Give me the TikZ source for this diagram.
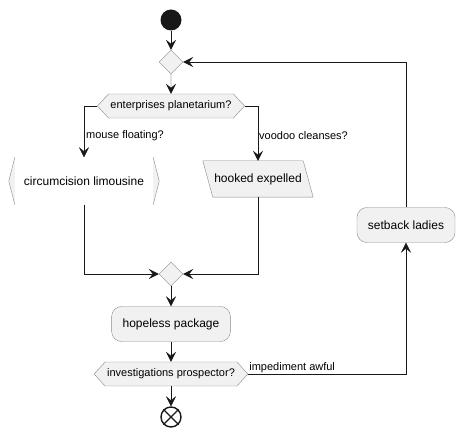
\documentclass[tikz,border=0pt]{standalone}
\usepackage{fontspec}
\setmainfont{Liberation Sans}
\usetikzlibrary{shapes.geometric,shapes.symbols,arrows.meta}

\definecolor{boxfill}{HTML}{F1F1F1}
\definecolor{boxline}{HTML}{8A8A8A}
\definecolor{linecol}{HTML}{181818}

\tikzset{
  act/.style={draw=boxline, fill=boxfill, rounded corners=10pt, minimum height=35pt, inner xsep=11pt, font=\fontsize{12}{14}\selectfont},
  merge/.style={draw=boxline, fill=boxfill, shape=diamond, minimum width=24pt, minimum height=24pt, inner sep=0pt},
  test/.style={draw=boxline, fill=boxfill, shape=signal, signal to=east and west, signal pointer angle=95, minimum height=24pt, inner xsep=2pt, inner ysep=0pt, font=\fontsize{11}{13}\selectfont},
  flow/.style={draw=linecol, -{Stealth[length=10pt,width=10pt,inset=4pt]}},
  lbl/.style={font=\fontsize{11}{13}\selectfont, inner sep=1pt}
}

\begin{document}
\begin{tikzpicture}[x=1pt,y=-1pt]
\useasboundingbox (0,0) rectangle (466,435);

\node[circle, fill=linecol, minimum size=21pt, inner sep=0pt] (start) at (171,20) {};
\node[merge] (m1) at (171,62) {};
\node[test] (d1) at (171,106) {enterprises planetarium?};

\node[minimum width=150pt, minimum height=47pt, inner sep=0pt, font=\fontsize{12}{14}\selectfont] (lim) at (84,181) {circumcision limousine};
\draw[boxline, fill=boxfill] ([xshift=6pt]lim.north west) -- (lim.west) -- ([xshift=6pt]lim.south west);
\draw[boxline, fill=boxfill] ([xshift=-6pt]lim.north east) -- (lim.east) -- ([xshift=-6pt]lim.south east);

% parallelogram
\node[minimum width=100pt, minimum height=36pt, inner sep=0pt, font=\fontsize{12}{14}\selectfont] (hook) at (258,179) {};
\filldraw[draw=boxline, fill=boxfill] ([xshift=-5pt]hook.north west) -- ([xshift=-5pt]hook.north east)
  -- ([xshift=5pt]hook.south east) -- ([xshift=5pt]hook.south west) -- cycle;
\node[font=\fontsize{12}{14}\selectfont] at (hook) {hooked expelled};

\node[merge] (m2) at (171,274) {};
\node[act] (hope) at (171,324) {hopeless package};
\node[test] (d2) at (171,374) {investigations prospector?};
\coordinate (d2bot) at ([yshift=-12pt]d2.center);
\node[circle, draw=linecol, fill=white, line width=1.4pt, minimum size=20pt, inner sep=0pt] (stop) at (171,417) {};
\draw[linecol, line width=1.4pt] (stop.45) -- (stop.225) (stop.135) -- (stop.315);

\node[act] (setb) at (406,225) {setback ladies};

% flows
\draw[flow] (start) -- (m1);
\draw[flow] (m1) -- (d1);
\draw[flow] (d1.west) -| (lim.north);
\node[lbl, anchor=west] (lmouse) at (85,136) {mouse floating?};
\draw[flow] (d1.east) -| (hook.north);
\node[lbl, anchor=west] (lvoodoo) at (258,136) {voodoo cleanses?};
\draw[flow] (lim.south) |- (m2.west);
\draw[flow] (hook.south) |- (m2.east);
\draw[flow] (m2) -- (hope);
\draw[flow] (hope.south) -- (d2.north);
\draw[flow] (d2bot) -- (stop.north);
\draw[flow] (d2.east) -| (setb.south);
\node[lbl, anchor=south west] (limped) at (d2.east) {impediment awful};
\draw[flow] (setb.north) |- (m1.east);
\end{tikzpicture}
\end{document}
